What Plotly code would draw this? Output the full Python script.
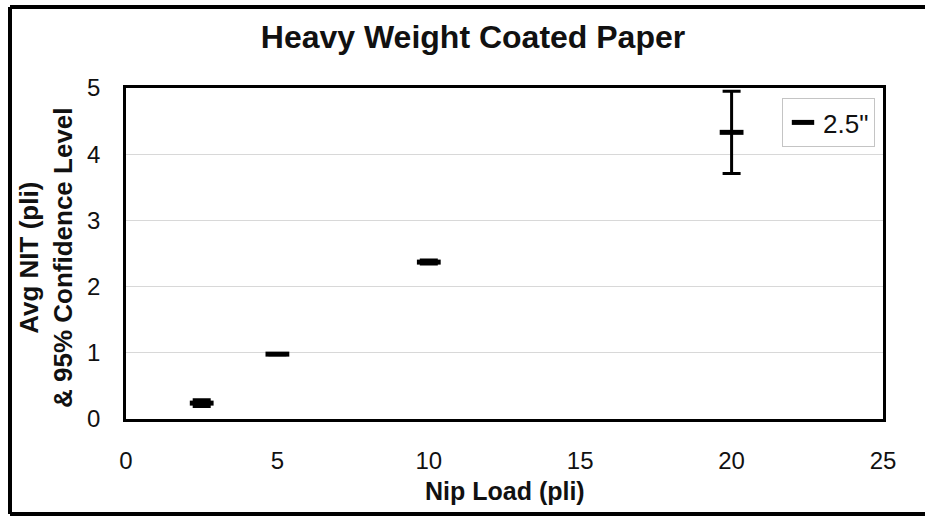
import plotly.graph_objects as go

# Data
nip_load = [2.5, 5, 10, 20]
avg_nit = [0.24, 0.98, 2.37, 4.33]
conf_95 = [0.05, 0.01, 0.03, 0.62]
series_name = '2.5"'

x_ticks = [0, 5, 10, 15, 20, 25]
y_ticks = [0, 1, 2, 3, 4, 5]

W, H = 925, 517
ml, mr, mt, mb = 126, 42, 88, 98
pw, ph = W - ml - mr, H - mt - mb

def px_to_paper_x(px):
    return (px - ml) / pw

def px_to_paper_y(py):
    return (H - mb - py) / ph

font_family = "Liberation Sans, Arial, sans-serif"

fig = go.Figure()
fig.add_trace(go.Scatter(
    x=nip_load, y=avg_nit, mode="markers", name=series_name,
    marker=dict(symbol="line-ew", size=17, color="black",
                line=dict(color="black", width=5)),
    error_y=dict(type="data", array=conf_95, visible=True,
                 color="black", thickness=3, width=9),
))

fig.update_layout(
    width=W, height=H,
    margin=dict(l=ml, r=mr, t=mt, b=mb),
    paper_bgcolor="white", plot_bgcolor="white",
    font=dict(family=font_family, color="#111"),
    title=dict(text="<b>Heavy Weight Coated Paper</b>", xref="container",
               x=473 / W, xanchor="center", yref="container",
               y=1 - 37 / H, yanchor="middle",
               font=dict(size=32, color="#111")),
    showlegend=True,
    legend=dict(x=px_to_paper_x(782), y=px_to_paper_y(98),
                xanchor="left", yanchor="top",
                bgcolor="white", bordercolor="#c4c4c4", borderwidth=1,
                font=dict(size=26, color="#111"),
                itemwidth=30, tracegroupgap=0),
    xaxis=dict(range=[0, 25], tickvals=x_ticks, showgrid=False,
               zeroline=False, showline=True, mirror=True,
               linecolor="black", linewidth=2.5,
               ticks="", ticklabelstandoff=18,
               tickfont=dict(size=24, color="#111")),
    yaxis=dict(range=[0, 5], tickvals=y_ticks, showgrid=True,
               gridcolor="#d8d8d8", gridwidth=1,
               zeroline=False, showline=True, mirror=True,
               linecolor="black", linewidth=2.5,
               ticks="", ticklabelstandoff=18,
               tickfont=dict(size=24, color="#111")),
)

fig.add_annotation(
    text="<b>Nip Load (pli)</b>",
    xref="paper", yref="paper",
    x=0.5, y=px_to_paper_y(491),
    xanchor="center", yanchor="middle",
    showarrow=False, font=dict(size=25, color="#111"),
)

fig.add_annotation(
    text="<b>Avg NIT (pli)<br>& 95% Confidence Level</b>",
    xref="paper", yref="paper",
    x=px_to_paper_x(46), y=px_to_paper_y(258),
    xanchor="center", yanchor="middle", textangle=-90,
    showarrow=False, font=dict(size=26, color="#111"),
)

# outer chart frame: left, top and bottom sides (right side is cut off in the scan)
frame_left, frame_right = px_to_paper_x(10), px_to_paper_x(940)
frame_top, frame_bottom = px_to_paper_y(7), px_to_paper_y(514)
for x0, y0, x1, y1 in [
    (frame_left, frame_bottom, frame_left, frame_top),
    (frame_left, frame_top, frame_right, frame_top),
    (frame_left, frame_bottom, frame_right, frame_bottom),
]:
    fig.add_shape(type="line", xref="paper", yref="paper",
                  x0=x0, y0=y0, x1=x1, y1=y1,
                  line=dict(color="black", width=4), layer="above")

fig.write_html("out.html",
               config={"displayModeBar": False},
               post_script="document.body.style.margin='0px';"
                           "document.body.style.overflow='hidden';")
